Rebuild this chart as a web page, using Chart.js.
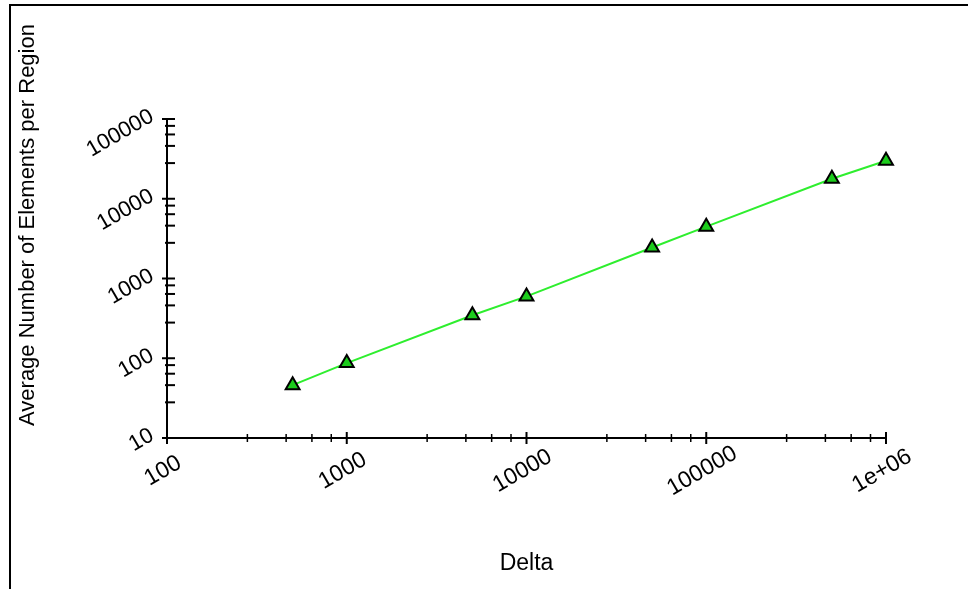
<!DOCTYPE html>
<html>
<head>
<meta charset="utf-8">
<script src="https://cdn.jsdelivr.net/npm/chart.js@4.4.1/dist/chart.umd.min.js"></script>
<style>
  body { margin: 0; background: #fff; }
  #wrap { position: relative; width: 968px; height: 589px; overflow: hidden; }
  #chartDelta { position: absolute; left: 0; top: 0; }
  #frame {
    position: absolute; left: 9px; top: 4px; width: 1000px; height: 700px;
    border-top: 2px solid #000; border-left: 2px solid #000;
  }
</style>
</head>
<body>
<div id="wrap">
  <canvas id="chartDelta" width="968" height="589"></canvas>
  <div id="frame"></div>
</div>
<script>
const deltaValues = [500, 1000, 5000, 10000, 50000, 100000, 500000, 1000000];
const avgElements = [46, 87, 346, 596, 2450, 4470, 17800, 29900];

const xMajorTicks = [100, 1000, 10000, 100000, 1000000];
const xTickLabels = ["100", "1000", "10000", "100000", "1e+06"];
const yMajorTicks = [10, 100, 1000, 10000, 100000];
const yTickLabels = ["10", "100", "1000", "10000", "100000"];
// minor ticks split each decade into 5 equal linear steps
const minorSteps = [2.8, 4.6, 6.4, 8.2];

const xTitle = "Delta";
const yTitle = "Average Number of Elements per Region";

const fontFamily = '"Liberation Sans", Arial, sans-serif';
Chart.defaults.font.family = fontFamily;
Chart.defaults.color = "#000";

function decadeTicks(majors) {
  let ticks = [];
  for (let i = 0; i < majors.length; i++) {
    ticks.push({ value: majors[i] });
    if (i < majors.length - 1) {
      minorSteps.forEach(function (m) {
        ticks.push({ value: majors[i] * m });
      });
    }
  }
  return ticks;
}

function majorIndex(majors, value) {
  return majors.findIndex(function (m) { return Math.abs(m - value) < 1e-6 * m; });
}

function labelFor(majors, labels) {
  return function (value) {
    let i = majorIndex(majors, value);
    return i >= 0 ? labels[i] : "";
  };
}

// tick marks crossing the axes, centred x tick labels, rotated y title
const axisDecor = {
  id: "axisDecor",
  afterDraw(chart) {
    const ctx = chart.ctx;
    const xs = chart.scales.x;
    const ys = chart.scales.y;
    ctx.save();
    ctx.strokeStyle = "#000";
    ctx.fillStyle = "#000";
    xs.ticks.forEach(function (t) {
      let i = majorIndex(xMajorTicks, t.value);
      let px = xs.getPixelForValue(t.value);
      ctx.lineWidth = i >= 0 ? 2 : 1.5;
      ctx.beginPath();
      ctx.moveTo(px, xs.top - (i >= 0 ? 6 : 4));
      ctx.lineTo(px, xs.top + (i >= 0 ? 6 : 4));
      ctx.stroke();
      if (i >= 0) {
        ctx.save();
        ctx.font = "23px " + fontFamily;
        ctx.textAlign = "center";
        ctx.textBaseline = "middle";
        ctx.translate(px - 4, xs.top + 33);
        ctx.rotate(-Math.PI / 6);
        ctx.fillText(xTickLabels[i], 0, 0);
        ctx.restore();
      }
    });
    ys.ticks.forEach(function (t) {
      let major = majorIndex(yMajorTicks, t.value) >= 0;
      let py = ys.getPixelForValue(t.value);
      ctx.lineWidth = 2;
      ctx.beginPath();
      ctx.moveTo(ys.right - (major ? 5 : 2), py);
      ctx.lineTo(ys.right + 8, py);
      ctx.stroke();
    });
    ctx.font = "22px " + fontFamily;
    ctx.textAlign = "center";
    ctx.textBaseline = "middle";
    ctx.translate(28, 225);
    ctx.rotate(-Math.PI / 2);
    ctx.fillText(yTitle, 0, 0);
    ctx.restore();
  },
};

const ctx = document.getElementById("chartDelta").getContext("2d");
const chartDelta = new Chart(ctx, {
  type: "line",
  data: {
    datasets: [
      {
        label: yTitle,
        data: deltaValues.map(function (d, i) { return { x: d, y: avgElements[i] }; }),
        borderColor: "#2eee2e",
        borderWidth: 2,
        pointStyle: "triangle",
        pointRadius: 8,
        pointBorderWidth: 2,
        pointBackgroundColor: "#1ccc1c",
        pointBorderColor: "#000",
        tension: 0,
        clip: false,
      },
    ],
  },
  options: {
    responsive: false,
    animation: false,
    layout: { padding: { left: 10, top: 119, right: 82, bottom: 0 } },
    plugins: { legend: { display: false }, tooltip: { enabled: false } },
    scales: {
      x: {
        type: "logarithmic",
        min: 100,
        max: 1000000,
        afterBuildTicks: function (scale) { scale.ticks = decadeTicks(xMajorTicks); },
        afterFit: function (scale) { scale.height = 151; },
        grid: { display: false, drawTicks: false },
        border: { display: true, color: "#000", width: 2 },
        ticks: { display: false, autoSkip: false },
        title: {
          display: true,
          text: xTitle,
          font: { size: 23 },
          padding: { top: 0, bottom: 12 },
        },
      },
      y: {
        type: "logarithmic",
        min: 10,
        max: 100000,
        afterBuildTicks: function (scale) { scale.ticks = decadeTicks(yMajorTicks); },
        afterFit: function (scale) { scale.width = 157; },
        grid: { display: false, drawTicks: false },
        border: { display: true, color: "#000", width: 2 },
        ticks: {
          autoSkip: false,
          minRotation: 30,
          maxRotation: 30,
          padding: 15,
          labelOffset: -4,
          font: { size: 22 },
          callback: labelFor(yMajorTicks, yTickLabels),
        },
      },
    },
  },
  plugins: [axisDecor],
});
</script>
</body>
</html>
